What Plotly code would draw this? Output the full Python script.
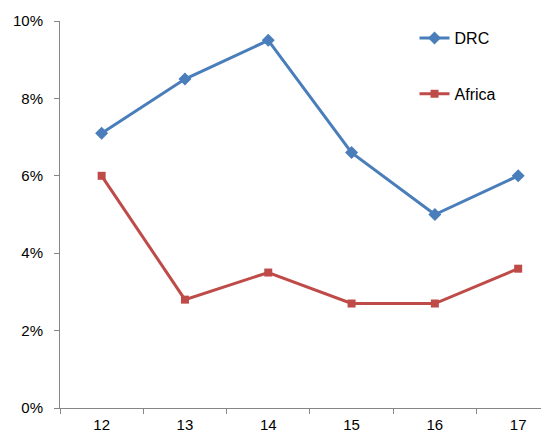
import plotly.graph_objects as go

years = ["12", "13", "14", "15", "16", "17"]
drc = [7.1, 8.5, 9.5, 6.6, 5.0, 6.0]
africa = [6.0, 2.8, 3.5, 2.7, 2.7, 3.6]
y_ticks = [0, 2, 4, 6, 8, 10]
y_tick_text = [f"{v}%" for v in y_ticks]

fig = go.Figure()
fig.add_trace(go.Scatter(
    x=years, y=drc, name="DRC", mode="lines+markers",
    line=dict(color="#4A7EBB", width=3),
    marker=dict(symbol="diamond", size=10, color="#4A7EBB"),
    legendgroup="a",
))
fig.add_trace(go.Scatter(
    x=years, y=africa, name="Africa", mode="lines+markers",
    line=dict(color="#BE4B48", width=3),
    marker=dict(symbol="square", size=8, color="#BE4B48"),
    legendgroup="b",
))

fig.update_layout(
    width=541, height=424,
    margin=dict(l=52, r=0, t=13, b=24),
    paper_bgcolor="white", plot_bgcolor="white",
    font=dict(family="Liberation Sans, Arial, sans-serif", size=15, color="black"),
    legend=dict(
        x=0.725, y=1.0, xanchor="left", yanchor="top",
        font=dict(size=16), tracegroupgap=32,
        traceorder="grouped", bgcolor="rgba(0,0,0,0)",
    ),
    xaxis=dict(
        type="category", range=[-0.5, 5.37],
        showline=True, linecolor="#868686", linewidth=1,
        ticks="outside", ticklen=5, tickcolor="#868686", tickson="boundaries",
        showgrid=False, zeroline=False, ticklabelstandoff=3,
    ),
    yaxis=dict(
        range=[0, 10], tickvals=y_ticks, ticktext=y_tick_text,
        showline=True, linecolor="#868686", linewidth=1,
        ticks="outside", ticklen=5, tickcolor="#868686",
        showgrid=False, zeroline=False, ticklabelstandoff=8,
    ),
)

fig.write_html("out.html")
